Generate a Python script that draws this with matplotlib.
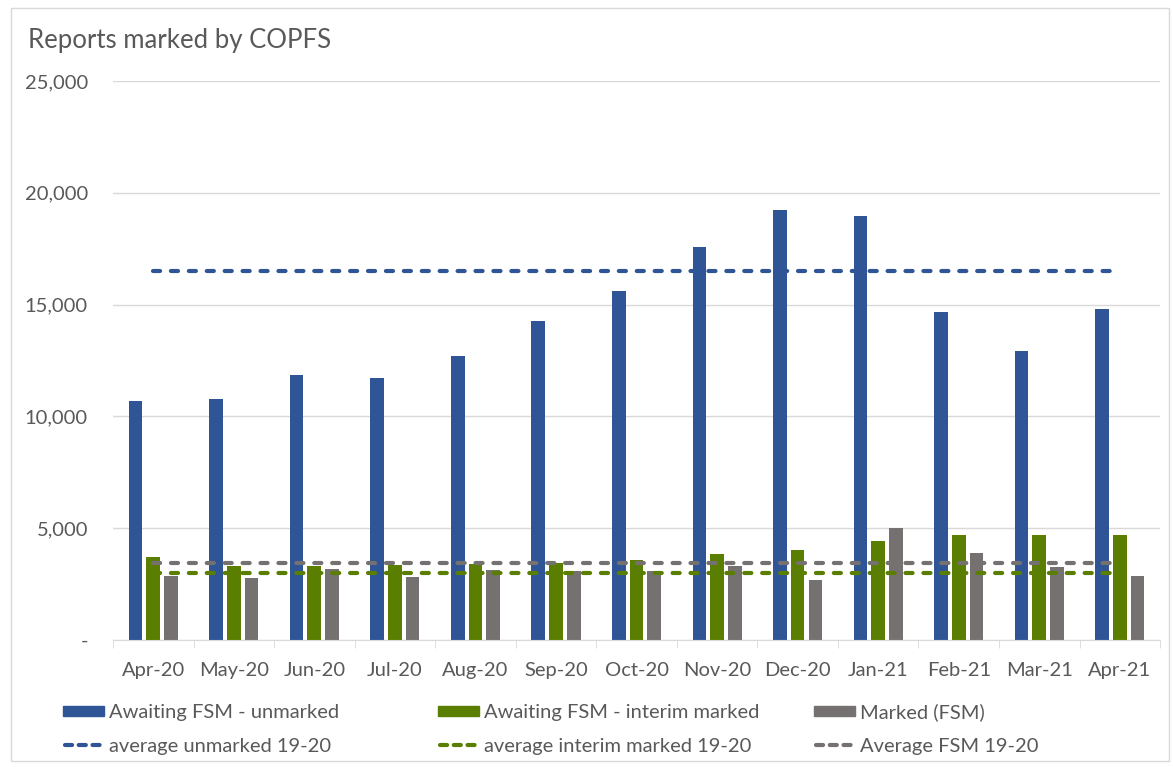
import matplotlib.pyplot as plt
import numpy as np
from matplotlib.patches import Rectangle
from matplotlib.lines import Line2D

plt.rcParams['font.family'] = ['Lato', 'DejaVu Sans']

# Daten
months = ['Apr-20', 'May-20', 'Jun-20', 'Jul-20', 'Aug-20', 'Sep-20', 'Oct-20',
          'Nov-20', 'Dec-20', 'Jan-21', 'Feb-21', 'Mar-21', 'Apr-21']
unmarked = [10690, 10780, 11850, 11720, 12700, 14270, 15610,
            17580, 19230, 18960, 14670, 12920, 14800]
interim = [3710, 3320, 3320, 3350, 3400, 3430, 3580,
           3850, 4030, 4430, 4710, 4680, 4710]
marked = [2850, 2790, 3190, 2820, 3130, 3090, 3100,
          3320, 2680, 5010, 3890, 3270, 2850]
avg_unmarked = 16500
avg_interim = 3000
avg_fsm = 3450

bar_labels = ['Awaiting FSM - unmarked', 'Awaiting FSM - interim marked', 'Marked (FSM)']
line_labels = ['average unmarked 19-20', 'average interim marked 19-20', 'Average FSM 19-20']

blue = '#2F5597'
green = '#5A7E00'
grey = '#767171'
txt = '#595959'
W, H = 1173, 767

fig = plt.figure(figsize=(W / 100, H / 100), dpi=100)
ax = fig.add_axes([0.0963, 0.1656, 0.8927, 0.7288])

# Rahmen um das Diagramm
fig.patches.append(Rectangle((0.009, 0.008), 0.988, 0.982, transform=fig.transFigure,
                             fill=False, edgecolor='#D9D9D9', linewidth=1))

x = np.arange(len(months))
w = 0.17
off = 0.22
ax.bar(x - off, unmarked, w, color=blue, zorder=2)
ax.bar(x, interim, w, color=green, zorder=2)
ax.bar(x + off, marked, w, color=grey, zorder=2)

ls = (0, (1.7, 2.6))
for val, c in [(avg_unmarked, blue), (avg_interim, green), (avg_fsm, grey)]:
    ax.plot(x, [val] * len(x), color=c, lw=3, linestyle=ls,
            dash_capstyle='round', zorder=3)

ax.set_xlim(-0.5, len(months) - 0.5)
ax.set_ylim(0, 25000)
yt = np.arange(0, 25001, 5000)
ax.set_yticks(yt)
ax.set_yticklabels(['-'] + [f'{v:,}' for v in yt[1:]])
ax.yaxis.grid(True, color='#D9D9D9', linewidth=1, zorder=0)
ax.set_axisbelow(True)

ax.set_xticks(x)
ax.set_xticklabels(months)
ax.set_xticks(np.arange(-0.5, len(months)), minor=True)
ax.tick_params(axis='x', which='major', length=0, pad=16, labelsize=14.5, labelcolor=txt)
ax.tick_params(axis='x', which='minor', length=6, color='#D9D9D9')
ax.tick_params(axis='y', length=0, pad=18, labelsize=14.5, labelcolor=txt)

for s in ['top', 'right', 'left']:
    ax.spines[s].set_visible(False)
ax.spines['bottom'].set_color('#D9D9D9')

fig.text(0.024, 0.947, 'Reports marked by COPFS', fontsize=18.5, color=txt,
         ha='left', va='center')

# Legende von Hand, drei Spalten x zwei Zeilen
col_x = [63, 438, 814]
row_y = [711, 745]
for cx, c, bl, ll in zip(col_x, [blue, green, grey], bar_labels, line_labels):
    fig.patches.append(Rectangle((cx / W, 1 - (row_y[0] + 5) / H), 41 / W, 10 / H,
                                 transform=fig.transFigure, color=c))
    fig.text((cx + 46) / W, 1 - row_y[0] / H, bl, fontsize=14.5, color=txt,
             ha='left', va='center_baseline')
    fig.lines.append(Line2D([(cx + 2) / W, (cx + 42) / W], [1 - row_y[1] / H] * 2,
                            transform=fig.transFigure, color=c, lw=3,
                            linestyle=(0, (1.7, 1.6)), dash_capstyle='round'))
    fig.text((cx + 46) / W, 1 - row_y[1] / H, ll, fontsize=14.5, color=txt,
             ha='left', va='center_baseline')

fig.savefig('out.png', dpi=100)
